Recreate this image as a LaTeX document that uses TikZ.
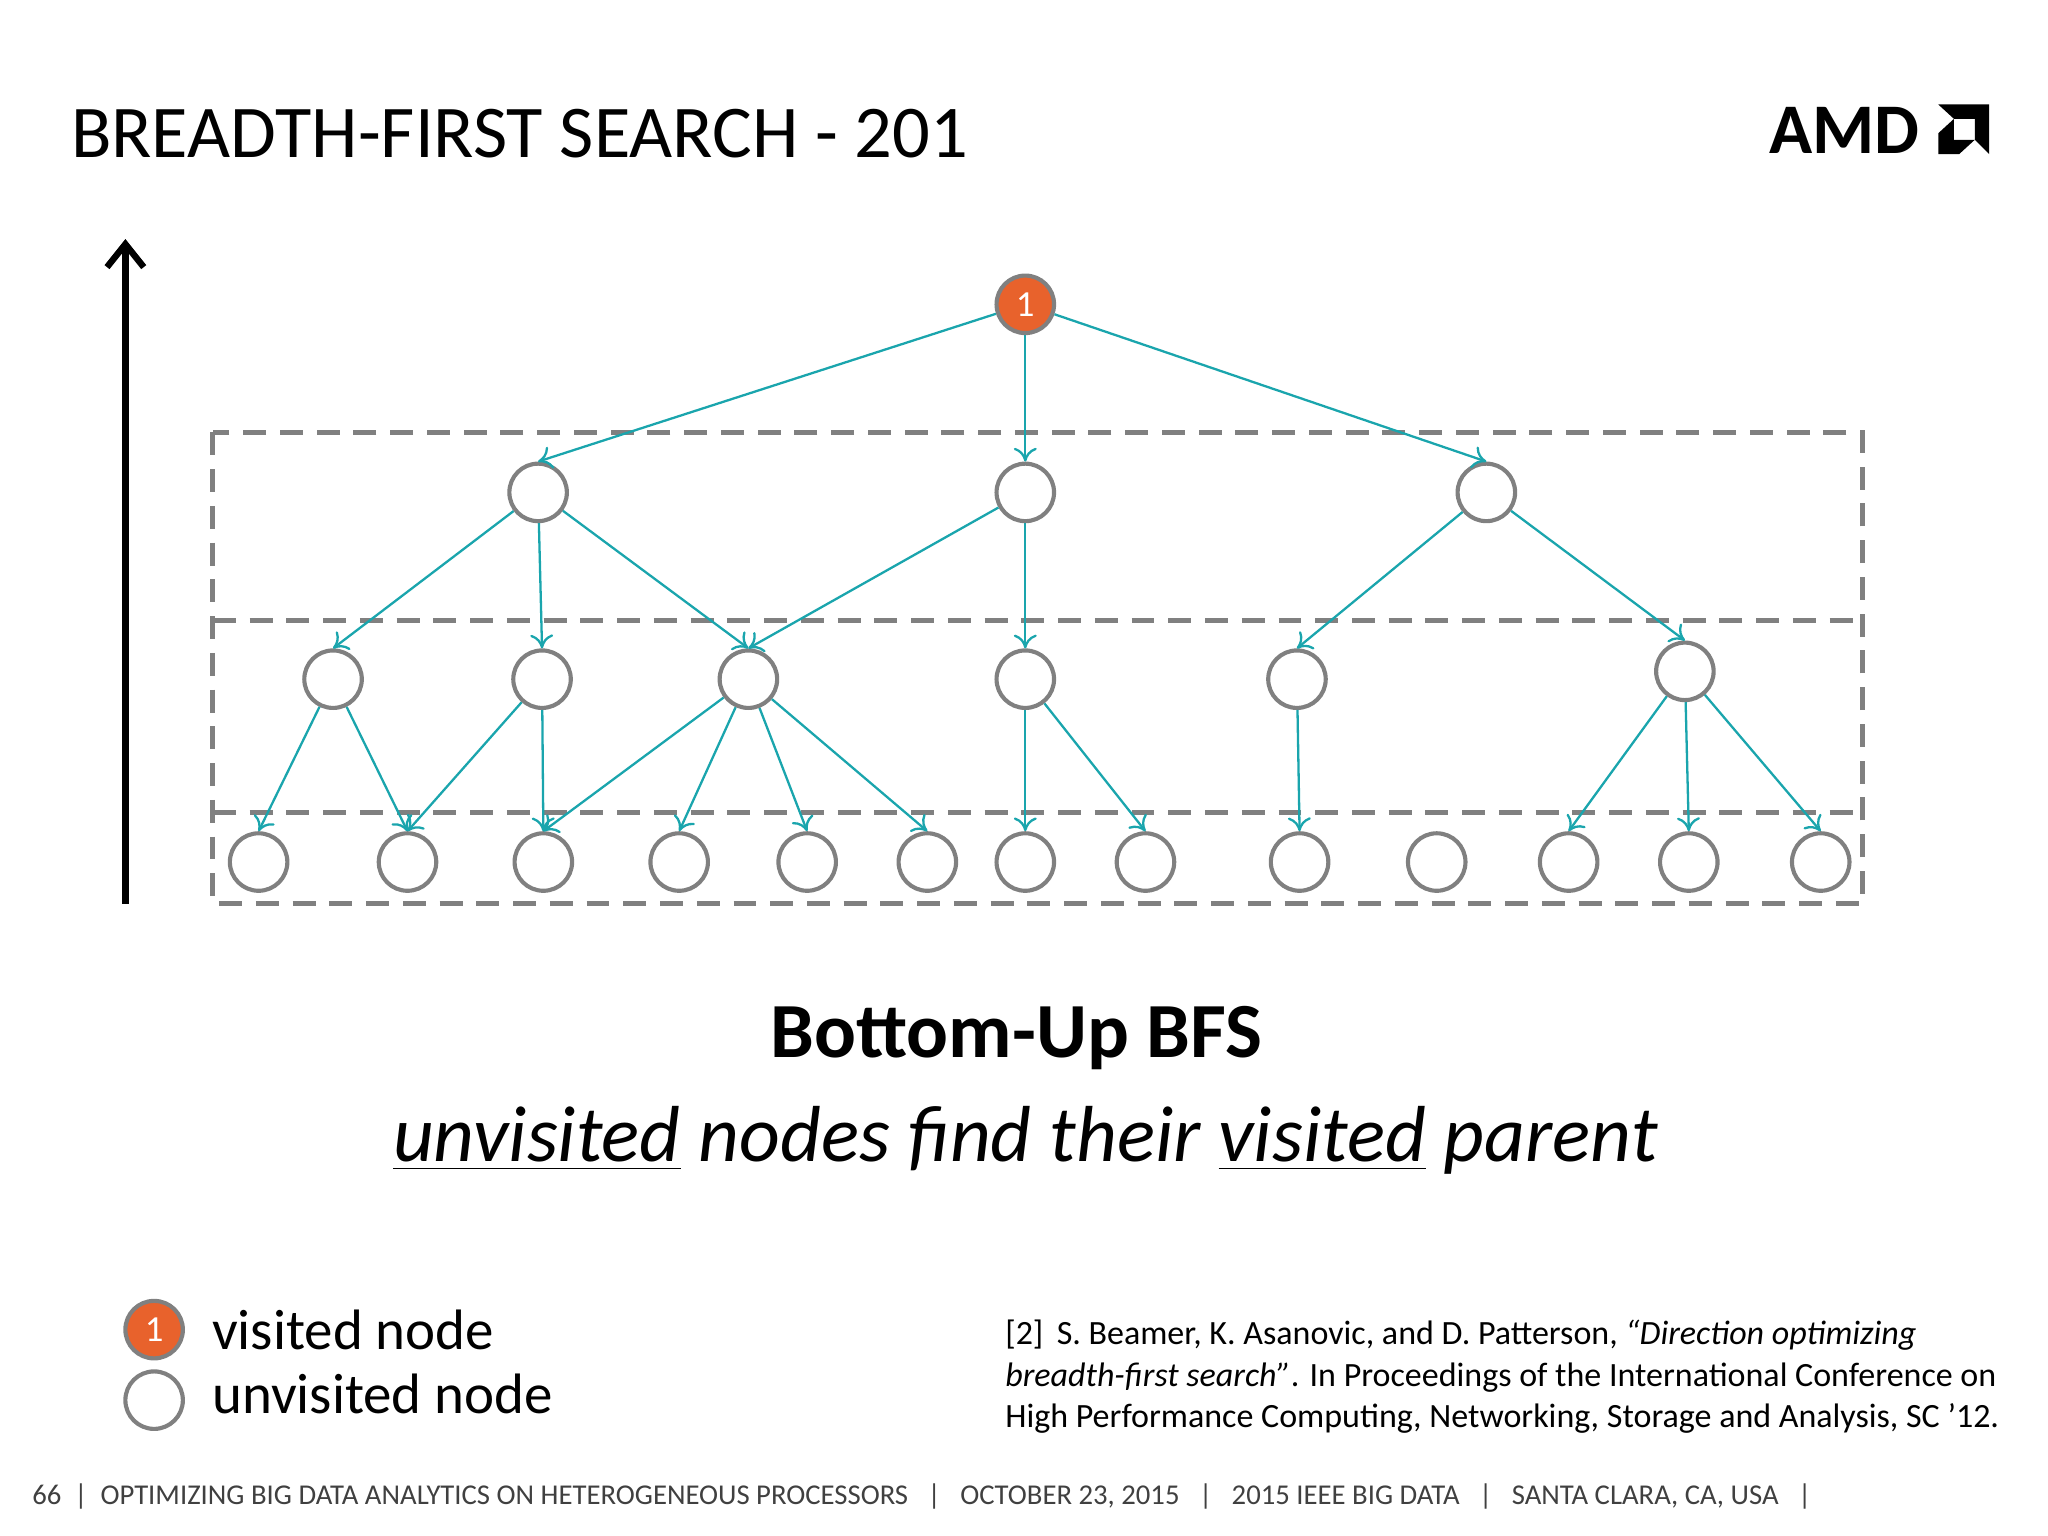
\documentclass[tikz,border=0pt]{standalone}
\usepackage{fontspec}
\setmainfont{Carlito}
\usetikzlibrary{arrows.meta}
\definecolor{amdorange}{HTML}{E8622C}
\definecolor{teal}{HTML}{1AA5AD}
\definecolor{ngray}{HTML}{808080}
\begin{document}
\begin{tikzpicture}[x=0.01cm,y=-0.01cm,
 uv/.style={circle,draw=ngray,line width=0.9pt,minimum size=0.44cm,inner sep=0pt,fill=white},
 vis/.style={uv,fill=amdorange,text=white,font=\fontsize{8}{8}\selectfont},
 ed/.style={teal,line width=0.5pt,-{To[length=3pt,width=5pt]}},
 dsh/.style={ngray,line width=1.1pt,dash pattern=on 5pt off 3pt}]
\useasboundingbox (0,0) rectangle (1568,1176);
\node[anchor=west,font=\fontsize{16.2}{17}\selectfont] (title) at (42,102) {BREADTH-FIRST SEARCH - 201};
\node[anchor=east,font=\fontsize{15.5}{15}\bfseries\selectfont] (amd) at (1482,100) {AMD};
\fill (1484,80) -- (1523,80) -- (1523,118) -- (1512,107) -- (1512,91) -- (1496,91) -- cycle;
\fill (1484,118) -- (1484,102) -- (1496,91) -- (1496,107) -- (1512,107) -- (1500,118) -- cycle;
% boxes
\draw[dsh] (163,331) rectangle (1426,692);
\draw[dsh] (163,475) -- (1426,475);
\draw[dsh] (163,622) -- (1426,622);
\draw[line width=1.4pt,-{Straight Barb[length=5pt,width=8pt]}] (96,692) -- (96,183);
% nodes
\node[vis] (r) at (785,233) {1};
\node[uv] (a) at (412,377) {};
\node[uv] (b) at (785,377) {};
\node[uv] (c) at (1138,377) {};
\node[uv] (d) at (255,520) {};
\node[uv] (e) at (415,520) {};
\node[uv] (f) at (573,520) {};
\node[uv] (g) at (785,520) {};
\node[uv] (h) at (993,520) {};
\node[uv] (i) at (1290,514) {};
\foreach \n/\x in {1/198,2/312,3/416,4/520,5/618,6/710,7/785,8/877,9/995,10/1100,11/1201,12/1293,13/1394}
  \node[uv] (l\n) at (\x,660) {};
\foreach \s/\t in {r/a,r/b,r/c,a/d,a/e,a/f,b/f,b/g,c/h,c/i,d/l1,d/l2,e/l2,e/l3,f/l3,f/l4,f/l5,f/l6,g/l7,g/l8,h/l9,i/l11,i/l12,i/l13}
  \draw[ed] (\s) -- (\t.north);
% captions
\node[font=\fontsize{17}{17}\bfseries\selectfont] (cap) at (778,795) {Bottom-Up BFS};
\node[font=\fontsize{17.3}{18}\itshape\selectfont] (sub) at (785,873) {\underline{unvisited} nodes find their \underline{visited} parent};
% legend
\node[vis] (lv) at (118,1018) {1};
\node[uv] (lu) at (118,1072) {};
\node[anchor=west,font=\fontsize{12.4}{13}\selectfont] (lvt) at (150,1018) {visited node};
\node[anchor=west,font=\fontsize{12.4}{13}\selectfont] (lut) at (150,1067) {unvisited node};
\node[anchor=north west,align=left,font=\fontsize{7.4}{9}\selectfont,inner sep=0pt] (ref) at (769,1010) {[2]\, S. Beamer, K. Asanovic, and D. Patterson, \textit{“Direction optimizing}\\\textit{breadth-first search”}. In Proceedings of the International Conference on\\High Performance Computing, Networking, Storage and Analysis, SC ’12.};
\node[anchor=west,text=black!75,font=\fontsize{6.25}{7}\selectfont,inner sep=0pt] (foot) at (24,1146) {66\ \ |\ \ OPTIMIZING BIG DATA ANALYTICS ON HETEROGENEOUS PROCESSORS\ \ \ |\ \ \ OCTOBER 23, 2015\ \ \ |\ \ \ 2015 IEEE BIG DATA\ \ \ |\ \ \ SANTA CLARA, CA, USA\ \ \ |};
\end{tikzpicture}
\end{document}
